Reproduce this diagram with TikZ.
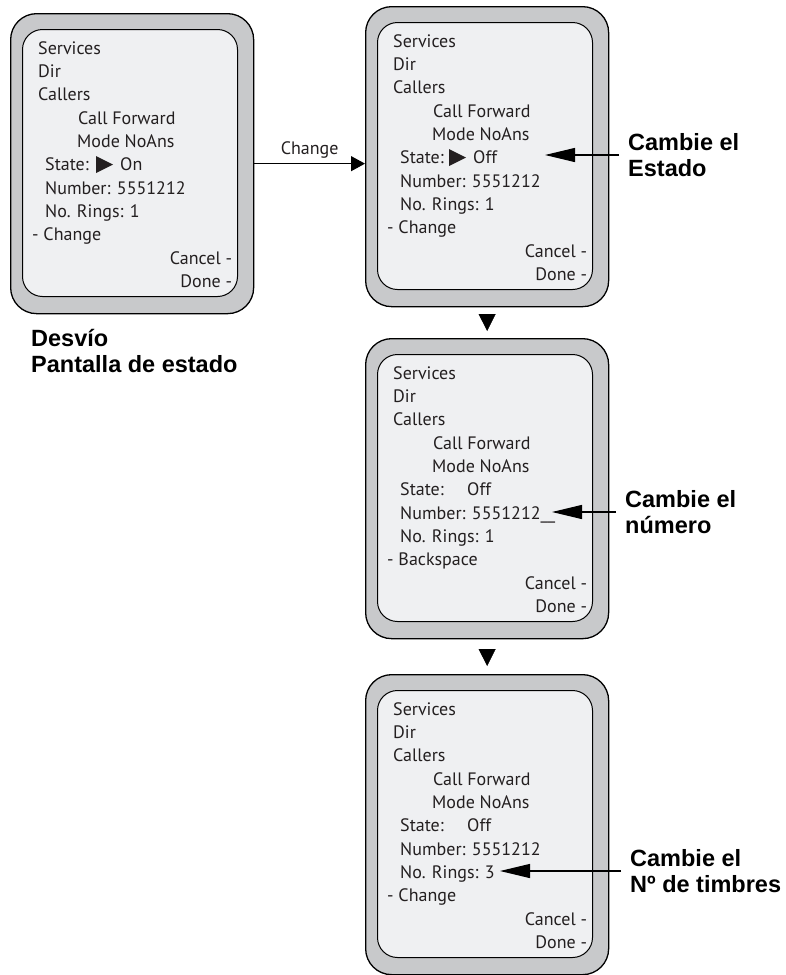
\documentclass[tikz,border=0pt]{standalone}
\usepackage{fontspec}
\setmainfont{PT Sans}
\newfontfamily\notefont{Liberation Sans}
\usepackage{xcolor}
\usepackage{tikz}
\usetikzlibrary{arrows.meta,positioning,calc}

\definecolor{phonegray}{RGB}{200,201,203}
\definecolor{screengray}{RGB}{239,240,242}
\definecolor{inkgray}{RGB}{35,31,32}

% one phone display: name, top left corner, number, rings, left soft key
\newcommand{\fwdphone}[5]{%
  \node[phone] (#1) at (#2) {};
  \node[screen, below right=16pt and 12pt of #1.north west] (#1-scr) {};
  \node[scrtxt] (#1-svc) at ([shift={(28,35)}]#1.north west) {Services};
  \node[scrtxt] (#1-dir) at ([shift={(28,58)}]#1.north west) {Dir};
  \node[scrtxt] (#1-cal) at ([shift={(28,81.5)}]#1.north west) {Callers};
  \node[scrtxt] (#1-cfw) at ([shift={(68,105)}]#1.north west) {Call Forward};
  \node[scrtxt] (#1-mode) at ([shift={(67,128)}]#1.north west) {Mode NoAns};
  \node[scrtxt] (#1-state) at ([shift={(35,151.5)}]#1.north west) {State:};
  \node[scrtxt] (#1-num) at ([shift={(35,175)}]#1.north west) {Number: #3};
  \node[scrtxt] (#1-rings) at ([shift={(35,198)}]#1.north west) {No. Rings: #4};
  \node[scrtxt] (#1-key) at ([shift={(22,221.5)}]#1.north west) {- #5};
  \node[scrtxt, anchor=east] (#1-cancel) at ([shift={(-22,245)}]#1.north east) {Cancel -};
  \node[scrtxt, anchor=east] (#1-done) at ([shift={(-22,268)}]#1.north east) {Done -};
}

\begin{document}
\begin{tikzpicture}[
x=1pt, y=-1pt,
phone/.style={draw, line width=1.3pt, rounded corners=26pt, fill=phonegray, minimum width=243pt, minimum height=300pt, inner sep=0pt, anchor=north west},
screen/.style={draw, line width=1pt, rounded corners=20pt, fill=screengray, minimum width=215pt, minimum height=267pt, inner sep=0pt},
scrtxt/.style={font=\fontsize{18}{22}\selectfont, text=inkgray, inner sep=0pt, text height=12pt, text depth=0pt, anchor=west},
note/.style={font=\notefont\bfseries\fontsize{23.5}{26}\selectfont, align=left, inner xsep=9pt, inner ysep=0pt, anchor=west},
navarrow/.style={-{Triangle[length=14pt,width=15pt]}, line width=1.2pt},
pointer/.style={-{Triangle[length=30pt,width=14pt]}, line width=1.2pt},
steptip/.style={-{Triangle[length=17pt,width=17pt]}, line width=0.4pt}
]
\useasboundingbox (0,0) rectangle (785,975);

\fwdphone{p1}{10,13}{5551212}{1}{Change}
\fwdphone{p2}{365,6}{5551212}{1}{Change}
\fwdphone{p3}{365,338}{5551212\_\_}{1}{Backspace}
\fwdphone{p4}{365,674}{5551212}{3}{Change}

% state values
\fill[inkgray] ([shift={(86,143)}]p1.north west) -- ++(17,8.5) -- ++(-17,8.5) -- cycle;
\node[scrtxt] (p1-on) at ([shift={(110,151.5)}]p1.north west) {On};
\fill[inkgray] ([shift={(84,143)}]p2.north west) -- ++(17,8.5) -- ++(-17,8.5) -- cycle;
\node[scrtxt] (p2-off) at ([shift={(108,151.5)}]p2.north west) {Off};
\node[scrtxt] (p3-off) at ([shift={(102,151.5)}]p3.north west) {Off};
\node[scrtxt] (p4-off) at ([shift={(102,151.5)}]p4.north west) {Off};

% labels
\node[note, inner xsep=0pt] (p1-note) at (31,351) {Desvío\\Pantalla de estado};
\node[note] (p2-note) at (619,155) {Cambie el\\Estado};
\node[note] (p3-note) at (616,512) {Cambie el\\número};
\node[note] (p4-note) at (621,871) {Cambie el\\Nº de timbres};
\coordinate (p2-tip) at (545,155);
\coordinate (p3-tip) at (552,512);
\coordinate (p4-tip) at (500,871);

% connectors
\draw[navarrow] (p1.east) -- (p1.east -| p2.west) node[midway, scrtxt, above=9pt] (chg-lbl) {Change};
\draw[steptip, shorten <=8pt, shorten >=7pt] (p2.south) -- (p3.north);
\draw[steptip, shorten <=15pt, shorten >=8pt] (p3.south) -- (p4.north);
\draw[pointer] (p2-note.west) -- (p2-tip);
\draw[pointer] (p3-note.west) -- (p3-tip);
\draw[pointer] (p4-note.west) -- (p4-tip);
\end{tikzpicture}
\end{document}
